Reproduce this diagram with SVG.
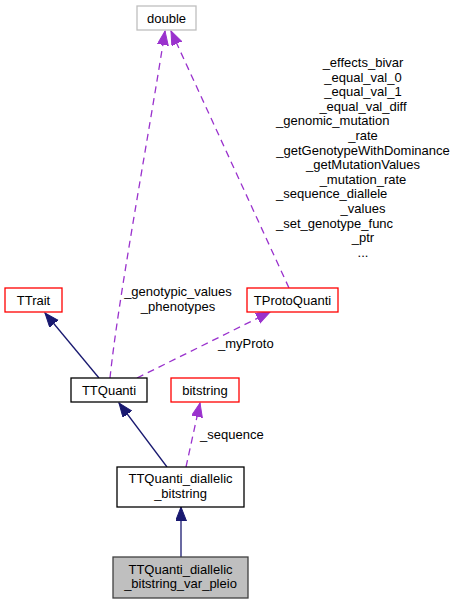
<svg xmlns="http://www.w3.org/2000/svg" width="456" height="604" viewBox="0 0 456 604">
<style>
text{font-family:"Liberation Sans",Arial,sans-serif;font-size:13px;fill:#000}
.c{text-anchor:middle}
.l{text-anchor:start}
.box{fill:#fff;stroke-width:1.3}
.red{stroke:#ff0000}
.blk{stroke:#000}
.gry{stroke:#bfbfbf}
.cur{fill:#bfbfbf;stroke:#404040}
.inh{fill:none;stroke:#191970;stroke-width:1.3}
.use{fill:none;stroke:#9a32cd;stroke-width:1.3;stroke-dasharray:7,5}
</style>
<defs>
<marker id="ab" markerUnits="userSpaceOnUse" markerWidth="16" markerHeight="12" refX="14" refY="5.5" orient="auto"><path d="M0,0 L14,5.5 L0,11 Z" fill="#191970" stroke="#191970"/></marker>
<marker id="ap" markerUnits="userSpaceOnUse" markerWidth="16" markerHeight="12" refX="14" refY="5.5" orient="auto"><path d="M0,0 L14,5.5 L0,11 Z" fill="#9a32cd" stroke="#9a32cd"/></marker>
</defs>
<g id="connectors">
<path class="inh" d="M99,378 L45,313" marker-end="url(#ab)"/>
<path class="inh" d="M167,467 L119,403" marker-end="url(#ab)"/>
<path class="inh" d="M181,557 L181,507" marker-end="url(#ab)"/>
<path class="use" d="M186,467 L200,403" marker-end="url(#ap)"/>
<path class="use" d="M137,378 L270,312" marker-end="url(#ap)"/>
<path class="use" d="M110,378 C118,300 148,140 165,31" marker-end="url(#ap)"/>
<path class="use" d="M289,288 L171,31" marker-end="url(#ap)"/>
<text class="c" x="178" y="296">_genotypic_values</text>
<text class="c" x="178" y="311">_phenotypes</text>
<text class="l" x="218" y="348">_myProto</text>
<text class="l" x="200" y="439">_sequence</text>
<text class="c" x="363" y="67">_effects_bivar</text>
<text class="c" x="363" y="81.6">_equal_val_0</text>
<text class="c" x="363" y="96.2">_equal_val_1</text>
<text class="c" x="363" y="110.8">_equal_val_diff</text>
<text class="l" x="276" y="125.4">_genomic_mutation</text>
<text class="c" x="363" y="140">_rate</text>
<text class="c" x="363" y="154.6">_getGenotypeWithDominance</text>
<text class="c" x="363" y="169.2">_getMutationValues</text>
<text class="c" x="363" y="183.8">_mutation_rate</text>
<text class="l" x="276" y="198.4">_sequence_diallele</text>
<text class="c" x="363" y="213">_values</text>
<text class="l" x="276" y="227.6">_set_genotype_func</text>
<text class="c" x="363" y="242.2">_ptr</text>
<text class="c" x="363" y="256.8">...</text>
</g>
<g id="node-double">
<rect class="box gry" x="137" y="6" width="59" height="24"/>
<text class="c" x="166.5" y="22.5">double</text>
</g>
<g id="node-TTrait">
<rect class="box red" x="5" y="288" width="57" height="24"/>
<text class="c" x="33.5" y="304.5">TTrait</text>
</g>
<g id="node-TProtoQuanti">
<rect class="box red" x="247" y="288" width="91" height="24"/>
<text class="c" x="292.5" y="304.5">TProtoQuanti</text>
</g>
<g id="node-TTQuanti">
<rect class="box blk" x="71" y="378" width="76" height="24"/>
<text class="c" x="109" y="394.5">TTQuanti</text>
</g>
<g id="node-bitstring">
<rect class="box red" x="171" y="378" width="68" height="24"/>
<text class="c" x="205" y="394.5">bitstring</text>
</g>
<g id="node-TTQuanti_diallelic_bitstring">
<rect class="box blk" x="117" y="467" width="127" height="40"/>
<text class="c" x="180.5" y="483">TTQuanti_diallelic</text>
<text class="c" x="180.5" y="497.5">_bitstring</text>
</g>
<g id="node-TTQuanti_diallelic_bitstring_var_pleio">
<rect class="box cur" x="113" y="557" width="135" height="41"/>
<text class="c" x="180.5" y="573.5">TTQuanti_diallelic</text>
<text class="c" x="180.5" y="588">_bitstring_var_pleio</text>
</g>
</svg>
